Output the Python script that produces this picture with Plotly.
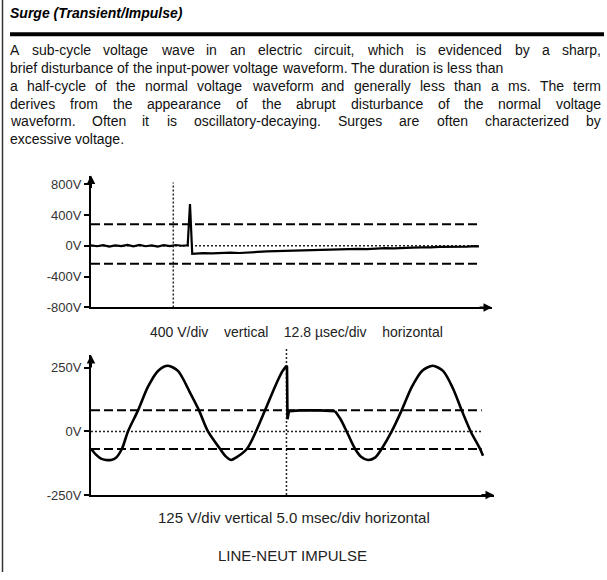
import plotly.graph_objects as go

# ---------------- data ----------------
TITLE = "Surge (Transient/Impulse)"
PARAGRAPH = [
    ("A sub-cycle voltage wave in an electric circuit, which is evidenced by a sharp,", True),
    ("brief disturbance of the input-power voltage waveform. The duration is less than", False),
    ("a half-cycle of the normal voltage waveform and generally less than a ms. The term", True),
    ("derives from the appearance of the abrupt disturbance of the normal voltage", True),
    ("waveform. Often it is oscillatory-decaying.  Surges are often characterized by", True),
    ("excessive voltage.", False),
]

# top trace: time (usec), voltage (V)
top_t = [0, 2, 4, 6, 8, 10, 12, 14, 16, 18, 20, 22, 24, 26, 28, 30, 31.9,
         32.66, 33.4,
         34, 37, 40, 43, 46, 49, 52, 55, 58, 61, 64, 67, 70, 73, 76, 79, 82, 85,
         88, 91, 94, 97, 100, 103, 106, 109, 112, 115, 118, 121, 124, 127, 128]
top_v = [4, -6, 8, -10, 6, -4, 10, -8, 12, -6, 4, -10, 8, -4, 10, 0, 6,
         541, -106,
         -104, -96, -100, -92, -88, -94, -84, -80, -74, -70, -66, -70, -60, -56,
         -52, -48, -50, -44, -40, -44, -36, -32, -34, -26, -24, -20, -22, -14,
         -16, -10, -12, -6, -8]
top_limits = [280, -235]
top_event_t = 27.15
top_yticks = [800, 400, 0, -400, -800]
top_ylabels = ["800V", "400V", "0V", "-400V", "-800V"]
SP4 = "\u00a0" * 4
top_caption = "400 V/div" + SP4 + "vertical" + SP4 + "12.8 \u00b5sec/div" + SP4 + "horizontal"

# bottom trace: time (msec), voltage (V)
bot_a_t = [0.00, 0.64, 1.28, 1.92, 2.56, 3.21, 3.97, 4.74, 6.03, 7.31, 8.59, 9.87,
           11.15, 12.69, 13.85, 15.0, 16.54, 17.31, 17.95, 18.59, 20.0, 21.15,
           22.31, 23.59, 24.49, 25.06]
bot_a_v = [-68, -91, -107, -112, -112, -103, -68, 0, 83, 176, 238, 258,
           238, 153, 83, 0, -68, -99, -112, -103, -68, 0,
           83, 176, 234, 258]
bot_b_t = [25.06, 25.13, 25.19, 25.38, 26.79, 29.36, 31.28]
bot_b_v = [258, 254, 48, 80, 83, 83, 80]
bot_c_t = [31.28, 32.05, 32.78, 33.85, 34.62, 35.51, 36.41, 37.27, 38.55, 39.83,
           41.15, 42.44, 43.81, 45.13, 46.41, 47.53, 48.68, 49.87, 50.26]
bot_c_v = [80, 45, 0, -68, -99, -112, -103, -68, 0, 83,
           176, 238, 258, 238, 169, 83, 0, -68, -95]
bot_limits = [83, -69]
bot_event_t = 25.06
bot_yticks = [250, 0, -250]
bot_ylabels = ["250V", "0V", "-250V"]
bot_caption = "125 V/div vertical 5.0 msec/div horizontal"
bot_title = "LINE-NEUT IMPULSE"

# ---------------- layout helpers ----------------
FW, FH = 607, 580
FONT = "Liberation Sans, Arial, Helvetica, sans-serif"


def px(x):
    return x / FW


def py(y):
    return 1 - y / FH


# Arial / Helvetica advance widths (per 1000 em)
AW = {' ': 278, ',': 278, '-': 333, '.': 278, '/': 278,
      'A': 667, 'O': 722, 'S': 667, 'T': 611,
      'a': 556, 'b': 556, 'c': 500, 'd': 556, 'e': 556, 'f': 278, 'g': 556,
      'h': 556, 'i': 222, 'j': 222, 'k': 500, 'l': 222, 'm': 833, 'n': 556,
      'o': 556, 'p': 556, 'q': 556, 'r': 333, 's': 500, 't': 278, 'u': 556,
      'v': 500, 'w': 722, 'x': 500, 'y': 500, 'z': 500}


def tw(s, size):
    return sum(AW.get(c, 556) for c in s) * size / 1000.0


fig = go.Figure()

LINE = dict(color="black", width=2.2)
fig.add_trace(go.Scatter(x=top_t, y=top_v, mode="lines", line=LINE,
                         xaxis="x", yaxis="y", hoverinfo="skip"))
fig.add_trace(go.Scatter(x=bot_a_t, y=bot_a_v, mode="lines",
                         line=dict(color="black", width=2.6, shape="spline", smoothing=0.8),
                         xaxis="x2", yaxis="y2", hoverinfo="skip"))
fig.add_trace(go.Scatter(x=bot_b_t, y=bot_b_v, mode="lines",
                         line=dict(color="black", width=2.6),
                         xaxis="x2", yaxis="y2", hoverinfo="skip"))
fig.add_trace(go.Scatter(x=bot_c_t, y=bot_c_v, mode="lines",
                         line=dict(color="black", width=2.6, shape="spline", smoothing=0.8),
                         xaxis="x2", yaxis="y2", hoverinfo="skip"))

shapes = []
DASH = "9px,4px"
DOT = "2px,2px"
for v in top_limits:
    shapes.append(dict(type="line", xref="x", yref="y", x0=0, x1=128, y0=v, y1=v,
                       line=dict(color="black", width=2, dash=DASH), layer="below"))
shapes.append(dict(type="line", xref="x", yref="y", x0=0, x1=128, y0=0, y1=0,
                   line=dict(color="#222", width=1.5, dash=DOT), layer="below"))
shapes.append(dict(type="line", xref="x", yref="y", x0=top_event_t, x1=top_event_t,
                   y0=-800, y1=822, line=dict(color="#222", width=1.5, dash=DOT), layer="below"))
for v in bot_limits:
    shapes.append(dict(type="line", xref="x2", yref="y2", x0=0, x1=50.1, y0=v, y1=v,
                       line=dict(color="black", width=2, dash=DASH), layer="below"))
shapes.append(dict(type="line", xref="x2", yref="y2", x0=0, x1=50.1, y0=0, y1=0,
                   line=dict(color="#222", width=1.5, dash=DOT), layer="below"))
shapes.append(dict(type="line", xref="x2", yref="y2 domain", x0=bot_event_t, x1=bot_event_t,
                   y0=0, y1=1.05, line=dict(color="#222", width=1.5, dash=DOT), layer="below"))
# page decoration: left rule and heading bar
shapes.append(dict(type="line", xref="paper", yref="paper", x0=px(2.5), x1=px(2.5),
                   y0=0, y1=1, line=dict(color="#333", width=1.5)))
shapes.append(dict(type="line", xref="paper", yref="paper", x0=px(10), x1=px(604),
                   y0=py(34.8), y1=py(34.8), line=dict(color="black", width=4)))

ann = []
ann.append(dict(text="<b><i>" + TITLE + "</i></b>", xref="paper", yref="paper",
                x=px(10), y=py(13.5), xanchor="left", yanchor="middle", showarrow=False,
                font=dict(family=FONT, size=14, color="black"), borderpad=0, borderwidth=0))
P_SIZE = 14
LEFT, RIGHT = 10, 601
for i, (line, justify) in enumerate(PARAGRAPH):
    yc = 51 + i * 18
    words = line.split()
    widths = [tw(w, P_SIZE) for w in words]
    if justify and len(words) > 1:
        gap = (RIGHT - LEFT - sum(widths)) / (len(words) - 1)
    else:
        gap = tw(' ', P_SIZE)
    x = LEFT
    for w, wd in zip(words, widths):
        ann.append(dict(text=w, xref="paper", yref="paper", x=px(x), y=py(yc),
                        xanchor="left", yanchor="middle", showarrow=False,
                        font=dict(family=FONT, size=P_SIZE, color="#111"),
                        borderpad=0, borderwidth=0))
        x += wd + gap

ann.append(dict(text=top_caption, xref="paper", yref="paper", x=px(296), y=py(337),
                xanchor="center", yanchor="middle", showarrow=False,
                font=dict(family=FONT, size=14, color="#222")))
ann.append(dict(text=bot_caption, xref="paper", yref="paper", x=px(294), y=py(525),
                xanchor="center", yanchor="middle", showarrow=False,
                font=dict(family=FONT, size=15, color="#222")))
ann.append(dict(text=bot_title, xref="paper", yref="paper", x=px(292), y=py(563),
                xanchor="center", yanchor="middle", showarrow=False,
                font=dict(family=FONT, size=15, color="#222")))

# axis arrowheads
ARW = dict(text="", xref="paper", yref="paper", showarrow=True, arrowhead=2,
           arrowsize=0.85, arrowwidth=2, arrowcolor="black", standoff=0)
ann.append(dict(ARW, x=px(91), y=py(178), ax=0, ay=14))
ann.append(dict(ARW, x=px(492), y=py(311.7), ax=-14, ay=0))
ann.append(dict(ARW, x=px(91), y=py(360), ax=0, ay=14))
ann.append(dict(ARW, x=px(494), y=py(502), ax=-14, ay=0))

AX_COMMON = dict(showgrid=False, zeroline=False, showline=True, linecolor="black",
                 linewidth=2, mirror=False)
fig.update_layout(
    width=FW, height=FH, margin=dict(l=0, r=0, t=0, b=0),
    paper_bgcolor="white", plot_bgcolor="white", showlegend=False,
    xaxis=dict(AX_COMMON, domain=[px(91), px(492)], range=[0, 132.3],
               showticklabels=False, ticks="", anchor="y"),
    yaxis=dict(AX_COMMON, domain=[py(311.7), py(178)], range=[-800, 911.4],
               tickvals=top_yticks, ticktext=top_ylabels, ticks="outside",
               ticklen=5, tickwidth=1.5, tickcolor="black",
               tickfont=dict(family=FONT, size=13, color="#333"), anchor="x"),
    xaxis2=dict(AX_COMMON, domain=[px(91), px(494)], range=[0, 51.67],
                showticklabels=False, ticks="", anchor="y2"),
    yaxis2=dict(AX_COMMON, domain=[py(502), py(360)], range=[-250, 300.4],
                tickvals=bot_yticks, ticktext=bot_ylabels, ticks="outside",
                ticklen=5, tickwidth=1.5, tickcolor="black",
                tickfont=dict(family=FONT, size=13, color="#333"), anchor="x2"),
    shapes=shapes, annotations=ann,
)

fig.write_html("out.html", config={"displayModeBar": False},
               post_script="document.body.style.margin='0';document.body.style.overflow='hidden';")
